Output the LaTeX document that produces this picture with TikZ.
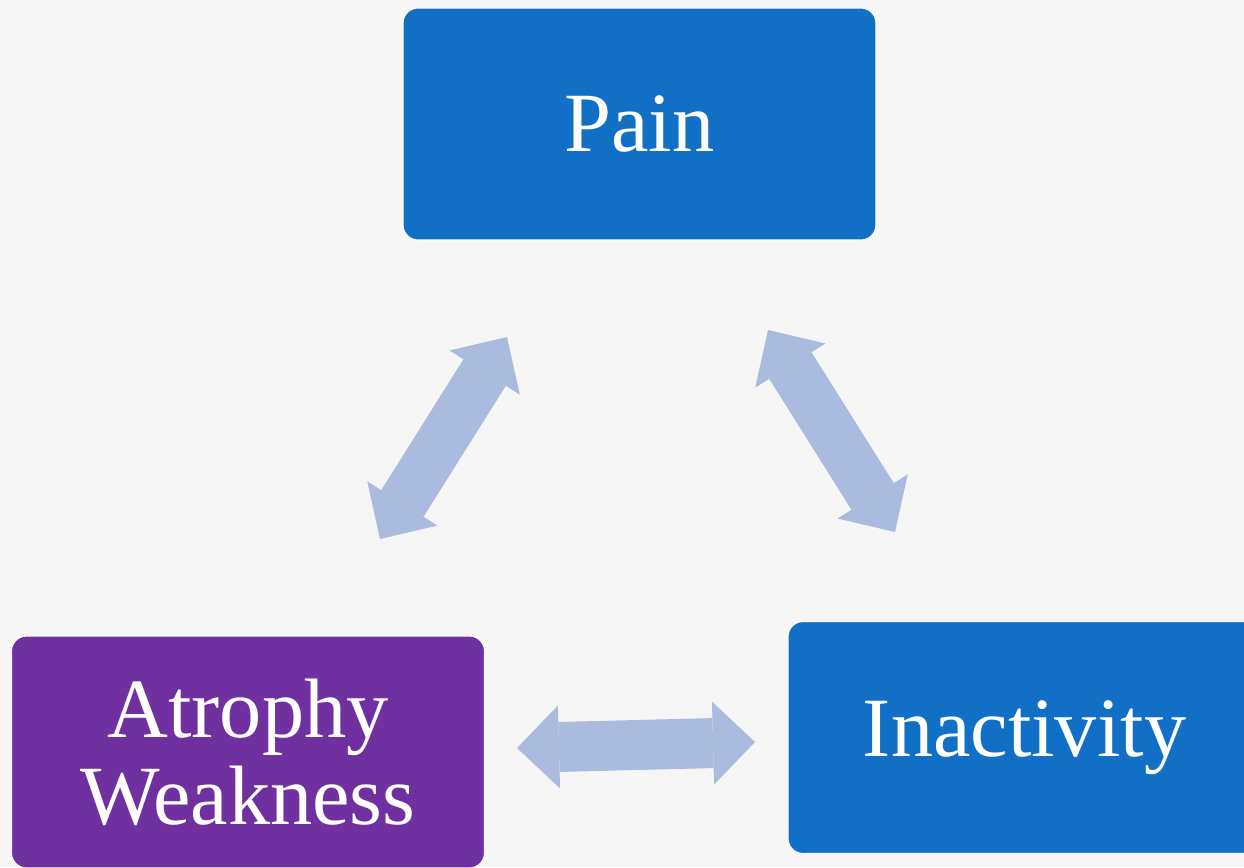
\documentclass[tikz,border=0pt]{standalone}
\usepackage{fontspec}
\setmainfont{Liberation Serif}
\usetikzlibrary{arrows.meta}
\definecolor{painblue}{HTML}{1170C6}
\definecolor{atrophypurple}{HTML}{7030A0}
\definecolor{cyclearrow}{HTML}{AABBDF}
\definecolor{slidebg}{HTML}{F6F6F6}

\begin{document}
\begin{tikzpicture}[x=0.02cm, y=-0.02cm,
    cyclebox/.style={rectangle, rounded corners=0.3cm, draw=white, line width=0.6pt,
        minimum width=9.46cm, minimum height=4.64cm, text=white, align=center,
        font=\fontsize{48}{49.5}\selectfont},
    cyclearrowline/.style={line width=1cm, color=cyclearrow,
        {Triangle[width=1.66cm, length=0.84cm, line width=0pt]}-{Triangle[width=1.66cm, length=0.84cm, line width=0pt]}}]
        \useasboundingbox (0,0) rectangle (1244,867);
        \clip (0,0) rectangle (1244,867);
        \fill[slidebg] (0,0) rectangle (1244,867);

        \node[cyclebox, fill=painblue] (pain) at (639.5,124) {Pain};
        \node[cyclebox, fill=painblue] (inactivity) at (1024.5,737.5) {Inactivity};
        \node[cyclebox, fill=atrophypurple] (atrophy) at (248,752) {Atrophy\\Weakness};

        \coordinate (painleft) at (507,337);
        \coordinate (atrophytop) at (380,539);
        \coordinate (painright) at (768,330);
        \coordinate (inactivitytop) at (895,532);
        \coordinate (atrophyright) at (517,748);
        \coordinate (inactivityleft) at (755,742);

        \draw[cyclearrowline] (painleft) -- (atrophytop);
        \draw[cyclearrowline] (painright) -- (inactivitytop);
        \draw[cyclearrowline] (atrophyright) -- (inactivityleft);
    \end{tikzpicture}
\end{document}
